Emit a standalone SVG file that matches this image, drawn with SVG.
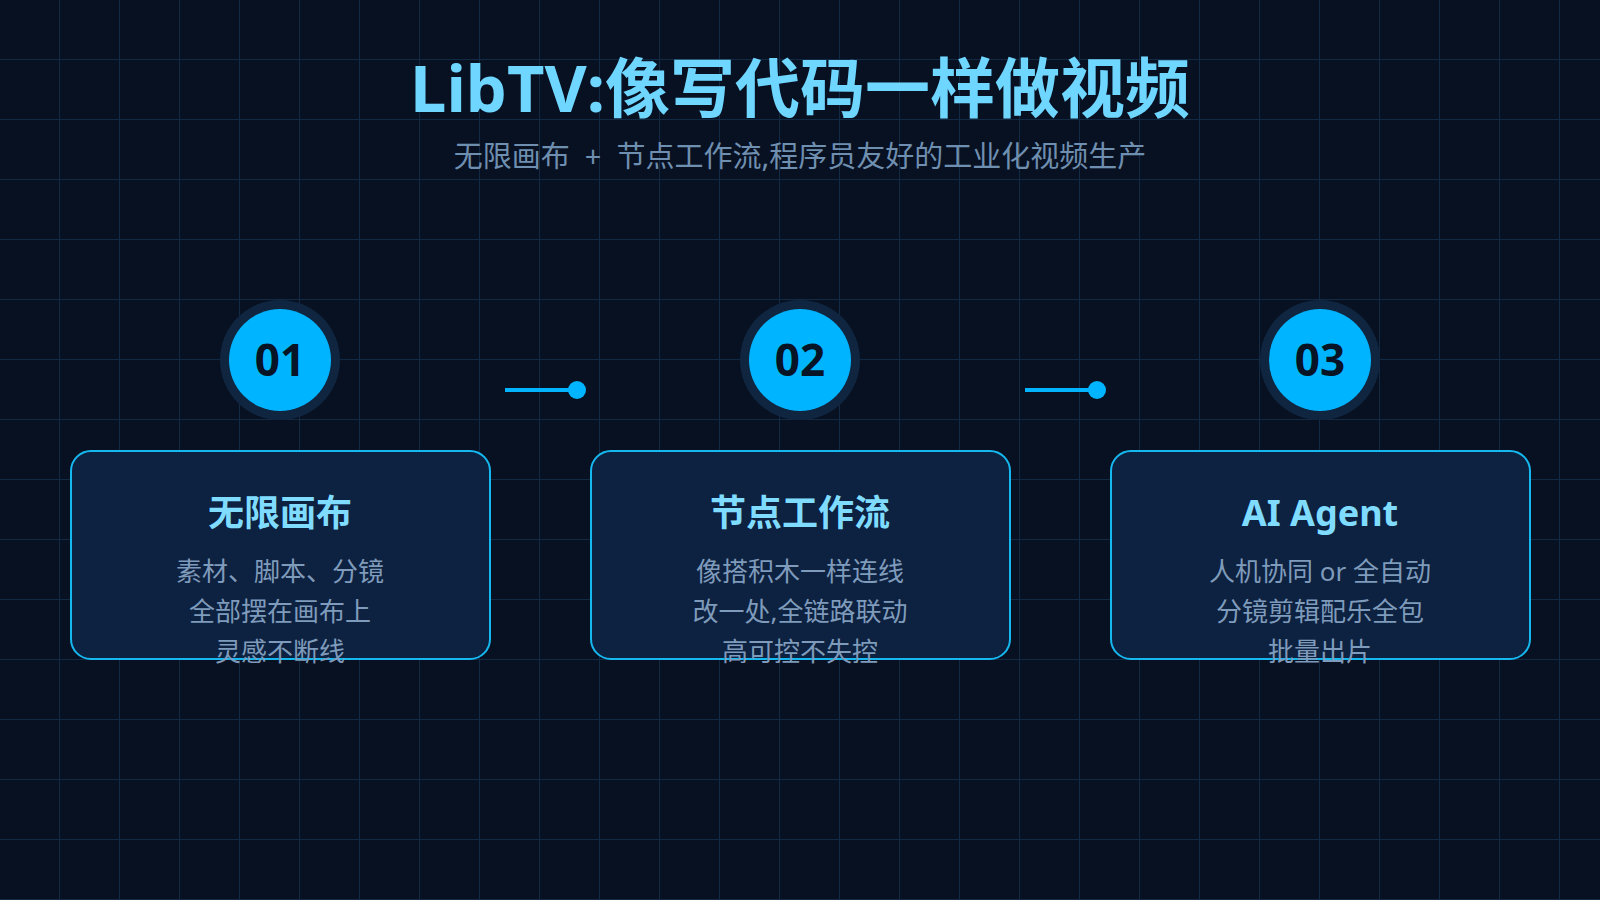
<svg xmlns="http://www.w3.org/2000/svg" width="1600" height="900" viewBox="0 0 1600 900">
<defs>
<pattern id="grid" width="60" height="60" patternUnits="userSpaceOnUse">
<path d="M60 0V60M0 60H60" fill="none" stroke="#132a45" stroke-width="2"/>
</pattern>
<style>
text{font-family:"Segoe UI","Noto Sans","Noto Sans CJK SC",sans-serif;text-anchor:middle}
.title{font-size:65px;font-weight:bold;fill:#6fd6ff}
.sub{font-size:29px;fill:#6f8fb0}
.halo{fill:#0f2540}
.disc{fill:#00b4ff}
.num{font-size:44px;font-weight:bold;fill:#061426}
.card{fill:#0d2140;stroke:#16b8f0;stroke-width:2}
.ct{font-size:36px;font-weight:bold;fill:#7fdcff}
.cl{font-size:26px;fill:#7f9bbb}
.conn{stroke:#00b4ff;stroke-width:4}
.dot{fill:#00b4ff}
</style>
</defs>
<rect width="1600" height="900" fill="#081122"/>
<rect width="1600" height="900" fill="url(#grid)"/>
<text class="title" x="800" y="112">LibTV:像写代码一样做视频</text>
<text class="sub" x="800" y="167" xml:space="preserve">无限画布  +  节点工作流,程序员友好的工业化视频生产</text>
<g id="connectors">
<line class="conn" x1="505" y1="390" x2="577" y2="390"/><circle class="dot" cx="577" cy="390" r="9"/>
<line class="conn" x1="1025" y1="390" x2="1097" y2="390"/><circle class="dot" cx="1097" cy="390" r="9"/>
</g>
<g id="node1">
<circle class="halo" cx="280" cy="360" r="60"/><circle class="disc" cx="280" cy="360" r="51"/>
<text class="num" x="280" y="376">01</text>
<rect class="card" x="71" y="451" width="419" height="208" rx="20"/>
<text class="ct" x="280" y="526">无限画布</text>
<text class="cl" x="280" y="581">素材、脚本、分镜</text>
<text class="cl" x="280" y="621">全部摆在画布上</text>
<text class="cl" x="280" y="661">灵感不断线</text>
</g>
<g id="node2">
<circle class="halo" cx="800" cy="360" r="60"/><circle class="disc" cx="800" cy="360" r="51"/>
<text class="num" x="800" y="376">02</text>
<rect class="card" x="591" y="451" width="419" height="208" rx="20"/>
<text class="ct" x="800" y="526">节点工作流</text>
<text class="cl" x="800" y="581">像搭积木一样连线</text>
<text class="cl" x="800" y="621">改一处,全链路联动</text>
<text class="cl" x="800" y="661">高可控不失控</text>
</g>
<g id="node3">
<circle class="halo" cx="1320" cy="360" r="60"/><circle class="disc" cx="1320" cy="360" r="51"/>
<text class="num" x="1320" y="376">03</text>
<rect class="card" x="1111" y="451" width="419" height="208" rx="20"/>
<text class="ct" x="1320" y="526">AI Agent</text>
<text class="cl" x="1320" y="581">人机协同 or 全自动</text>
<text class="cl" x="1320" y="621">分镜剪辑配乐全包</text>
<text class="cl" x="1320" y="661">批量出片</text>
</g>
</svg>
